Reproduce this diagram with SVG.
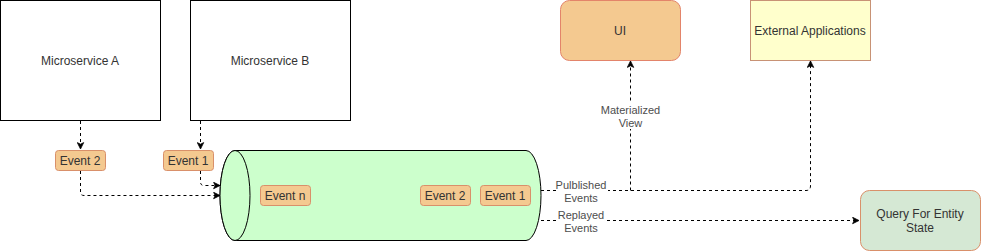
<svg xmlns="http://www.w3.org/2000/svg" width="981" height="251" viewBox="0 0 981 251">
<defs>
<style>
text{font-family:"Liberation Sans",Arial,sans-serif;font-size:12px;fill:#333;text-anchor:middle}
.lbl{font-size:11px;fill:#4d4d4d}
.svc{fill:#fff;stroke:#000;stroke-width:1}
.ev{fill:#f4c990;stroke:#d9906a;stroke-width:1}
.conn{fill:none;stroke:#000;stroke-width:1;stroke-dasharray:3 3}
.lblbg{fill:#fff}
</style>
<marker id="ah" viewBox="0 0 10 10" refX="9" refY="5" markerWidth="8" markerHeight="8" markerUnits="userSpaceOnUse" orient="auto">
<path d="M1,1 L9,5 L1,9 L3,5 Z" fill="#000" stroke="#000"/>
</marker>
</defs>
<rect width="981" height="251" fill="#fff"/>
<g id="ms-a"><rect class="svc" x="0.5" y="0.5" width="160" height="120"/><text x="80" y="65">Microservice A</text></g>
<g id="ms-b"><rect class="svc" x="190.5" y="0.5" width="160" height="120"/><text x="270" y="65">Microservice B</text></g>
<g id="ui"><rect x="560.5" y="0.5" width="120" height="60" rx="9" fill="#f4c990" stroke="#e3846a"/><text x="620" y="35">UI</text></g>
<g id="ext"><rect x="750.5" y="0.5" width="120" height="60" fill="#ffffcc" stroke="#c89275"/><text x="810" y="35">External Applications</text></g>
<g id="query"><rect x="860.5" y="190.5" width="120" height="60" rx="9" fill="#d5e8d4" stroke="#d9906a"/><text x="920" y="218">Query For Entity</text><text x="920" y="232">State</text></g>
<g id="stream">
<path d="M235,150.5 L526,150.5 A15,45 0 0 1 526,240.5 L235,240.5 A15,45 0 0 1 235,150.5 Z" fill="#ccffcc" stroke="#000"/>
<ellipse cx="235" cy="195.5" rx="15" ry="45" fill="#ccffcc" stroke="#000"/>
</g>
<g id="event2-in"><rect class="ev" x="55.5" y="150.5" width="50" height="20" rx="3"/><text x="80" y="165">Event 2</text></g>
<g id="event1-in"><rect class="ev" x="163.5" y="150.5" width="50" height="20" rx="3"/><text x="188" y="165">Event 1</text></g>
<g id="event-n"><rect class="ev" x="260.5" y="185.5" width="50" height="20" rx="3"/><text x="285" y="200">Event n</text></g>
<g id="event2-s"><rect class="ev" x="420.5" y="185.5" width="50" height="20" rx="3"/><text x="445" y="200">Event 2</text></g>
<g id="event1-s"><rect class="ev" x="480.5" y="185.5" width="50" height="20" rx="3"/><text x="505" y="200">Event 1</text></g>
<g id="connectors">
<path class="conn" d="M80.5,121 L80.5,149" marker-end="url(#ah)"/>
<path class="conn" d="M200.5,121 L200.5,149" marker-end="url(#ah)"/>
<path class="conn" d="M200.5,171 L200.5,182 Q200.5,185.5 204,185.5 L220,185.5" marker-end="url(#ah)"/>
<path class="conn" d="M80.5,171 L80.5,192 Q80.5,195.5 84,195.5 L220,195.5" marker-end="url(#ah)"/>
<path class="conn" d="M541,190.5 L806,190.5 Q810.5,190.5 810.5,186 L810.5,61" marker-end="url(#ah)"/>
<path class="conn" d="M630.5,190.5 L630.5,61" marker-end="url(#ah)"/>
<path class="conn" d="M541,220.5 L859,220.5" marker-end="url(#ah)"/>
<rect class="lblbg" x="603" y="103" width="56" height="26"/>
<text class="lbl" x="630.5" y="114">Materialized</text>
<text class="lbl" x="630.5" y="127">View</text>
<rect class="lblbg" x="556" y="179" width="52" height="13"/>
<text class="lbl" x="581" y="189">Pulblished</text>
<text class="lbl" x="581" y="202">Events</text>
<rect class="lblbg" x="557" y="209" width="48" height="13"/>
<text class="lbl" x="581" y="219">Replayed</text>
<text class="lbl" x="581" y="232">Events</text>
</g>
</svg>
